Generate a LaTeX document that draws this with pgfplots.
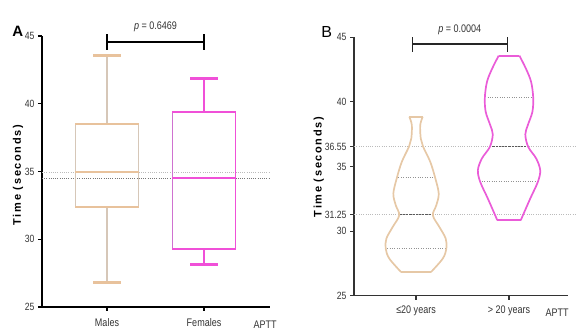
\documentclass[border=0pt]{standalone}
\usepackage{fontspec}
\setmainfont{Liberation Sans}
\newfontfamily\narrowfont{Liberation Sans}[FakeStretch=0.82]
\newfontfamily\labelfont{Liberation Sans Bold}[LetterSpace=15]
\usepackage{pgfplots}
\pgfplotsset{compat=1.18}
\definecolor{tanH}{HTML}{E8C29C}
\definecolor{tanS}{HTML}{D6C7B8}
\definecolor{magH}{HTML}{F050D8}
\definecolor{magS}{HTML}{CF72D0}
\definecolor{vtan}{HTML}{E6C8A6}
\definecolor{vmag}{HTML}{EA5CD8}
\definecolor{refL}{HTML}{BBBBBB}
\definecolor{refD}{HTML}{777777}
\pgfplotsset{
  panel/.style={
    scale only axis, axis lines=left, axis line style={-},
    tick align=outside, major tick length=4pt,
    clip=false,
    /pgf/number format/assume math mode=true,
    yticklabel style={font=\narrowfont\fontsize{10.5}{11}\selectfont, text=black!80},
    xticklabel style={font=\narrowfont\fontsize{11}{12}\selectfont, text=black!80},
    ylabel={\labelfont\fontsize{11}{12}\selectfont Time (seconds)},
    minor tick num=0,
  },
  dotq/.style={color=refD!80, line width=0.8pt, dash pattern=on 1pt off 1.4pt},
  dotm/.style={color=black!65, line width=1pt, dash pattern=on 2.2pt off 1pt},
}
\begin{document}
\begin{tikzpicture}
\path[use as bounding box] (0,0) rectangle (576pt,334pt);
% ---------------- Panel A ----------------
\begin{axis}[panel,
  at={(42pt,27pt)}, anchor=south west,
  width=228pt, height=271pt,
  xmin=-0.67, xmax=1.68, ymin=25, ymax=45,
  xtick={0,1}, xticklabels={Males,Females},
  ytick={25,30,35,40,45},
  axis line style={line width=1.8pt, black},
  every tick/.style={black, line width=1.4pt},
  xticklabel style={yshift=-4pt},
  ylabel style={at={(axis description cs:-0.105,0.487)}, anchor=center},
]
% reference lines
\addplot[color=refL, line width=0.9pt, dash pattern=on 1pt off 1.2pt] coordinates {(-0.67,34.9) (1.68,34.9)};
\addplot[color=refD, line width=0.9pt, dash pattern=on 1pt off 1.2pt] coordinates {(-0.67,34.5) (1.68,34.5)};
% Males
\addplot[tanS, line width=1.1pt] coordinates {(0,38.5) (0,43.55)};
\addplot[tanS, line width=1.1pt] coordinates {(0,32.4) (0,26.8)};
\addplot[tanH, line width=2.4pt] coordinates {(-0.14,43.55) (0.14,43.55)};
\addplot[tanH, line width=2.4pt] coordinates {(-0.14,26.8) (0.14,26.8)};
\addplot[tanS, line width=1.2pt] coordinates {(-0.325,32.4) (-0.325,38.5)};
\addplot[tanS, line width=1.2pt] coordinates {(0.325,32.4) (0.325,38.5)};
\addplot[tanH, line width=2.4pt] coordinates {(-0.325,38.5) (0.325,38.5)};
\addplot[tanH, line width=2.4pt] coordinates {(-0.325,34.95) (0.325,34.95)};
\addplot[tanH, line width=2.4pt] coordinates {(-0.325,32.4) (0.325,32.4)};
% Females
\addplot[magH, line width=1.2pt] coordinates {(1,39.37) (1,41.85)};
\addplot[magH, line width=1.2pt] coordinates {(1,29.3) (1,28.15)};
\addplot[magH, line width=2.4pt] coordinates {(0.86,41.85) (1.14,41.85)};
\addplot[magH, line width=2.4pt] coordinates {(0.86,28.15) (1.14,28.15)};
\addplot[magS, line width=1.3pt] coordinates {(0.675,29.3) (0.675,39.37)};
\addplot[magH, line width=1.3pt] coordinates {(1.325,29.3) (1.325,39.37)};
\addplot[magH, line width=2.4pt] coordinates {(0.675,39.37) (1.325,39.37)};
\addplot[magH, line width=2.2pt] coordinates {(0.675,34.5) (1.325,34.5)};
\addplot[magH, line width=2.4pt] coordinates {(0.675,29.3) (1.325,29.3)};
% significance bracket
\addplot[black, line width=1.6pt] coordinates {(0,44.55) (1,44.55)};
\addplot[black, line width=1.6pt] coordinates {(0,44.0) (0,45.15)};
\addplot[black, line width=1.6pt] coordinates {(1,44.0) (1,45.15)};
\node[font=\narrowfont\fontsize{11}{12}\selectfont, text=black!80] at (axis cs:0.5,45.7) {{\itshape p} = 0.6469};
\node[font=\narrowfont\fontsize{11}{12}\selectfont, text=black!80] at (axis cs:1.63,23.7) {APTT};
\node[font=\bfseries\fontsize{15}{16}\selectfont] at (axis cs:-0.92,45.37) {A};
\end{axis}
% ---------------- Panel B ----------------
\begin{axis}[panel,
  at={(354pt,38.3pt)}, anchor=south west,
  width=214pt, height=258.4pt,
  xmin=-0.667, xmax=1.634, ymin=25, ymax=45,
  xtick={0,1}, xticklabels={≤20 years,> 20 years},
  ytick={25,30,31.25,35,36.55,40,45},
  yticklabels={25,30,31.25,35,36.55,40,45},
  axis line style={line width=1.4pt, black!80},
  every tick/.style={black!80, line width=1.1pt},
  xticklabel style={yshift=-3pt},
  ylabel style={at={(axis description cs:-0.164,0.498)}, anchor=center},
]
\addplot[color=refL, line width=0.9pt, dash pattern=on 1pt off 1.3pt] coordinates {(-0.667,36.55) (1.73,36.55)};
\addplot[color=refL, line width=0.9pt, dash pattern=on 1pt off 1.3pt] coordinates {(-0.667,31.25) (1.73,31.25)};
% violin 1 quartiles
\addplot[dotq] coordinates {(-0.19,34.12) (0.19,34.12)};
\addplot[dotm] coordinates {(-0.175,31.25) (0.175,31.25)};
\addplot[dotq] coordinates {(-0.31,28.64) (0.31,28.64)};
% violin 1 outline
\addplot[vtan, line width=1.7pt, smooth, tension=0.55] coordinates {
 (-0.072,38.85) (-0.045,38.2) (-0.051,37.16) (-0.075,36.55) (-0.153,35.36)
 (-0.206,34.12) (-0.244,32.9) (-0.218,32.0) (-0.181,31.22) (-0.251,30.32)
 (-0.319,29.42) (-0.326,28.64) (-0.287,27.87) (-0.161,26.83)};
\addplot[vtan, line width=1.7pt, smooth, tension=0.55] coordinates {
 (0.072,38.85) (0.045,38.2) (0.051,37.16) (0.075,36.55) (0.153,35.36)
 (0.206,34.12) (0.244,32.9) (0.218,32.0) (0.181,31.22) (0.251,30.32)
 (0.319,29.42) (0.326,28.64) (0.287,27.87) (0.161,26.83)};
\addplot[vtan, line width=1.9pt] coordinates {(-0.072,38.85) (0.072,38.85)};
\addplot[vtan, line width=1.9pt] coordinates {(-0.161,26.83) (0.161,26.83)};
% violin 2 quartiles
\addplot[dotq] coordinates {(0.77,40.32) (1.24,40.32)};
\addplot[dotm] coordinates {(0.82,36.55) (1.18,36.55)};
\addplot[dotq] coordinates {(0.71,33.81) (1.29,33.81)};
% violin 2 outline
\addplot[vmag, line width=1.7pt, smooth, tension=0.55] coordinates {
 (0.889,43.58) (0.820,42.6) (0.763,41.56) (0.740,40.32) (0.749,39.23)
 (0.798,38.2) (0.825,37.48) (0.794,36.52) (0.708,35.62) (0.665,34.71)
 (0.690,33.81) (0.772,32.52) (0.874,30.84)};
\addplot[vmag, line width=1.7pt, smooth, tension=0.55] coordinates {
 (1.111,43.58) (1.180,42.6) (1.237,41.56) (1.260,40.32) (1.251,39.23)
 (1.202,38.2) (1.175,37.48) (1.206,36.52) (1.292,35.62) (1.335,34.71)
 (1.310,33.81) (1.228,32.52) (1.126,30.84)};
\addplot[vmag, line width=1.9pt] coordinates {(0.889,43.58) (1.111,43.58)};
\addplot[vmag, line width=1.9pt] coordinates {(0.874,30.84) (1.126,30.84)};
% significance bracket
\addplot[black!85, line width=1.4pt] coordinates {(-0.035,44.48) (0.986,44.48)};
\addplot[black!85, line width=1.4pt] coordinates {(-0.035,43.88) (-0.035,45.05)};
\addplot[black!85, line width=1.4pt] coordinates {(0.986,43.88) (0.986,45.05)};
\node[font=\narrowfont\fontsize{11}{12}\selectfont, text=black!80] at (axis cs:0.47,45.55) {{\itshape p} = 0.0004};
\node[font=\narrowfont\fontsize{11}{12}\selectfont, text=black!80] at (axis cs:1.516,23.66) {APTT};
\node[font=\fontsize{16}{17}\selectfont] at (axis cs:-0.96,45.4) {B};
\end{axis}
\end{tikzpicture}
\end{document}
